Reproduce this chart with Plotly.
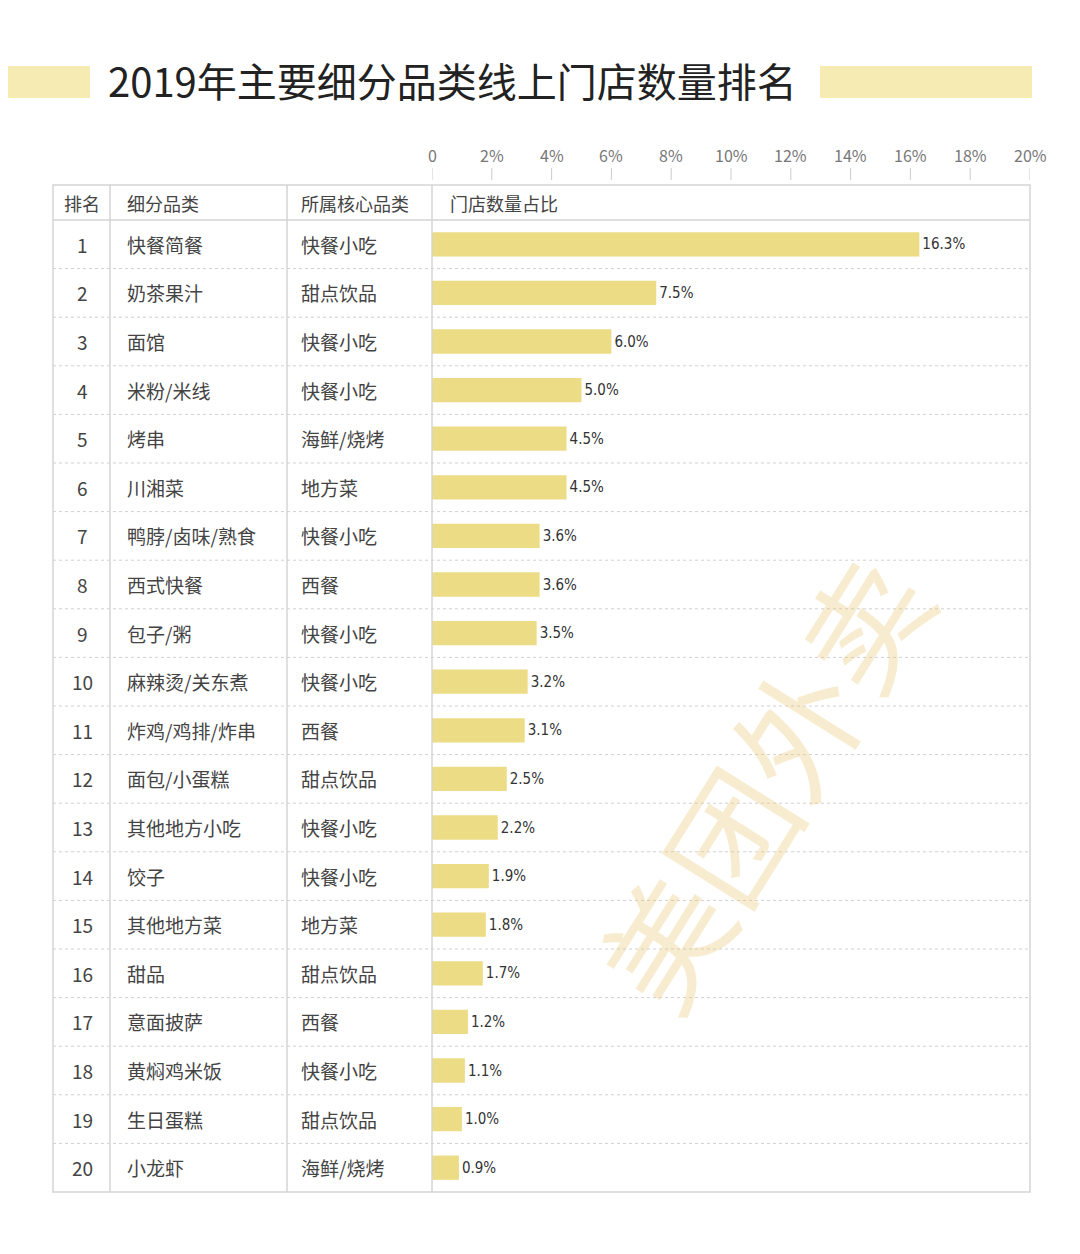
import plotly.graph_objects as go

W, H = 1064, 1238  # page body has 8px margin
OFF = 8

ranks = list(range(1, 21))
subcats = ["快餐简餐", "奶茶果汁", "面馆", "米粉/米线", "烤串", "川湘菜", "鸭脖/卤味/熟食", "西式快餐",
           "包子/粥", "麻辣烫/关东煮", "炸鸡/鸡排/炸串", "面包/小蛋糕", "其他地方小吃", "饺子",
           "其他地方菜", "甜品", "意面披萨", "黄焖鸡米饭", "生日蛋糕", "小龙虾"]
core_cats = ["快餐小吃", "甜点饮品", "快餐小吃", "快餐小吃", "海鲜/烧烤", "地方菜", "快餐小吃", "西餐",
             "快餐小吃", "快餐小吃", "西餐", "甜点饮品", "快餐小吃", "快餐小吃", "地方菜", "甜点饮品",
             "西餐", "快餐小吃", "甜点饮品", "海鲜/烧烤"]
shares = [16.3, 7.5, 6.0, 5.0, 4.5, 4.5, 3.6, 3.6, 3.5, 3.2, 3.1, 2.5, 2.2, 1.9, 1.8, 1.7, 1.2, 1.1, 1.0, 0.9]
ticks = [0, 2, 4, 6, 8, 10, 12, 14, 16, 18, 20]
tick_labels = ["0"] + [f"{t}%" for t in ticks[1:]]
headers = ["排名", "细分品类", "所属核心品类", "门店数量占比"]

FONT = "Noto Sans CJK SC"
px = lambda x: (x - OFF) / W
py = lambda y: 1 - (y - OFF) / H

TOP, BOT = 220, 1192  # rows area in pixels
n = len(ranks)

fig = go.Figure(go.Bar(
    x=shares, y=list(range(n)), orientation="h", width=0.5,
    marker=dict(color="#ecdc85", line_width=0),
    text=[f"{v:.1f}%" for v in shares], textposition="outside", cliponaxis=False,
    textfont=dict(family="DejaVu Sans Condensed", size=15, color="#333"),
))

shapes, ann = [], []
# row separators (dashed)
for i in range(n - 1):
    shapes.append(dict(type="line", xref="paper", yref="y", x0=px(53), x1=px(1030), y0=i + 0.5, y1=i + 0.5,
                       line=dict(color="#d0d0d0", width=1, dash="dot")))
# table border & header line
shapes.append(dict(type="rect", xref="paper", yref="paper", x0=px(53), x1=px(1030), y0=py(185), y1=py(BOT),
                   line=dict(color="#d5d5d5", width=1.5)))
shapes.append(dict(type="line", xref="paper", yref="paper", x0=px(53), x1=px(1030), y0=py(TOP), y1=py(TOP),
                   line=dict(color="#d5d5d5", width=1.5)))
for xc in [110, 287, 432]:
    shapes.append(dict(type="line", xref="paper", yref="paper", x0=px(xc), x1=px(xc), y0=py(185), y1=py(BOT),
                       line=dict(color="#d5d5d5", width=1.5)))
# title decorations
shapes.append(dict(type="rect", xref="paper", yref="paper", x0=px(0), x1=px(90), y0=py(66), y1=py(98),
                   fillcolor="#f7ebb4", line_width=0))
shapes.append(dict(type="rect", xref="paper", yref="paper", x0=px(820), x1=px(1032), y0=py(66), y1=py(98),
                   fillcolor="#f7ebb4", line_width=0))
# tick marks and labels
for t, lab in zip(ticks, tick_labels):
    shapes.append(dict(type="line", xref="x", yref="paper", x0=t, x1=t, y0=py(168), y1=py(180),
                       line=dict(color="#cccccc", width=1)))
    ann.append(dict(x=t, y=py(155), xref="x", yref="paper", text=lab, showarrow=False,
                    xanchor="center", yanchor="middle",
                    font=dict(family=FONT, size=16, color="#777")))

# headers
for xc, h in zip([62, 125, 299, 448], headers):
    ann.append(dict(x=px(xc), y=py(203), xref="paper", yref="paper", text=h, showarrow=False,
                    xanchor="left", yanchor="middle",
                    font=dict(family=FONT, size=18, color="#444")))
for i in range(n):
    ann.append(dict(x=px(82), y=i, xref="paper", yref="y", text=str(ranks[i]), showarrow=False,
                    xanchor="center", yanchor="middle",
                    font=dict(family=FONT, size=19, color="#444")))
    ann.append(dict(x=px(125), y=i, xref="paper", yref="y", text=subcats[i], showarrow=False,
                    xanchor="left", yanchor="middle",
                    font=dict(family=FONT, size=19, color="#444")))
    ann.append(dict(x=px(299), y=i, xref="paper", yref="y", text=core_cats[i], showarrow=False,
                    xanchor="left", yanchor="middle",
                    font=dict(family=FONT, size=19, color="#444")))

ann.append(dict(x=px(452), y=py(80), xref="paper", yref="paper", text="2019年主要细分品类线上门店数量排名",
                showarrow=False, xanchor="center", yanchor="middle",
                font=dict(family=FONT, size=40, color="#222")))
ann.append(dict(x=px(760), y=py(780), xref="paper", yref="paper", text="美团外卖", showarrow=False, textangle=-58,
                xanchor="center", yanchor="middle",
                font=dict(family=FONT, size=125, color="rgba(236,200,120,0.35)")))

fig.update_layout(
    width=W, height=H, margin=dict(l=0, r=0, t=0, b=0),
    paper_bgcolor="white", plot_bgcolor="rgba(0,0,0,0)", showlegend=False,
    shapes=shapes, annotations=ann,
    xaxis=dict(domain=[px(432), px(1030)], range=[0, 20], visible=False, fixedrange=True),
    yaxis=dict(domain=[py(BOT), py(TOP)], range=[n - 0.5, -0.5], visible=False, fixedrange=True),
)

fig.write_html("out.html")
